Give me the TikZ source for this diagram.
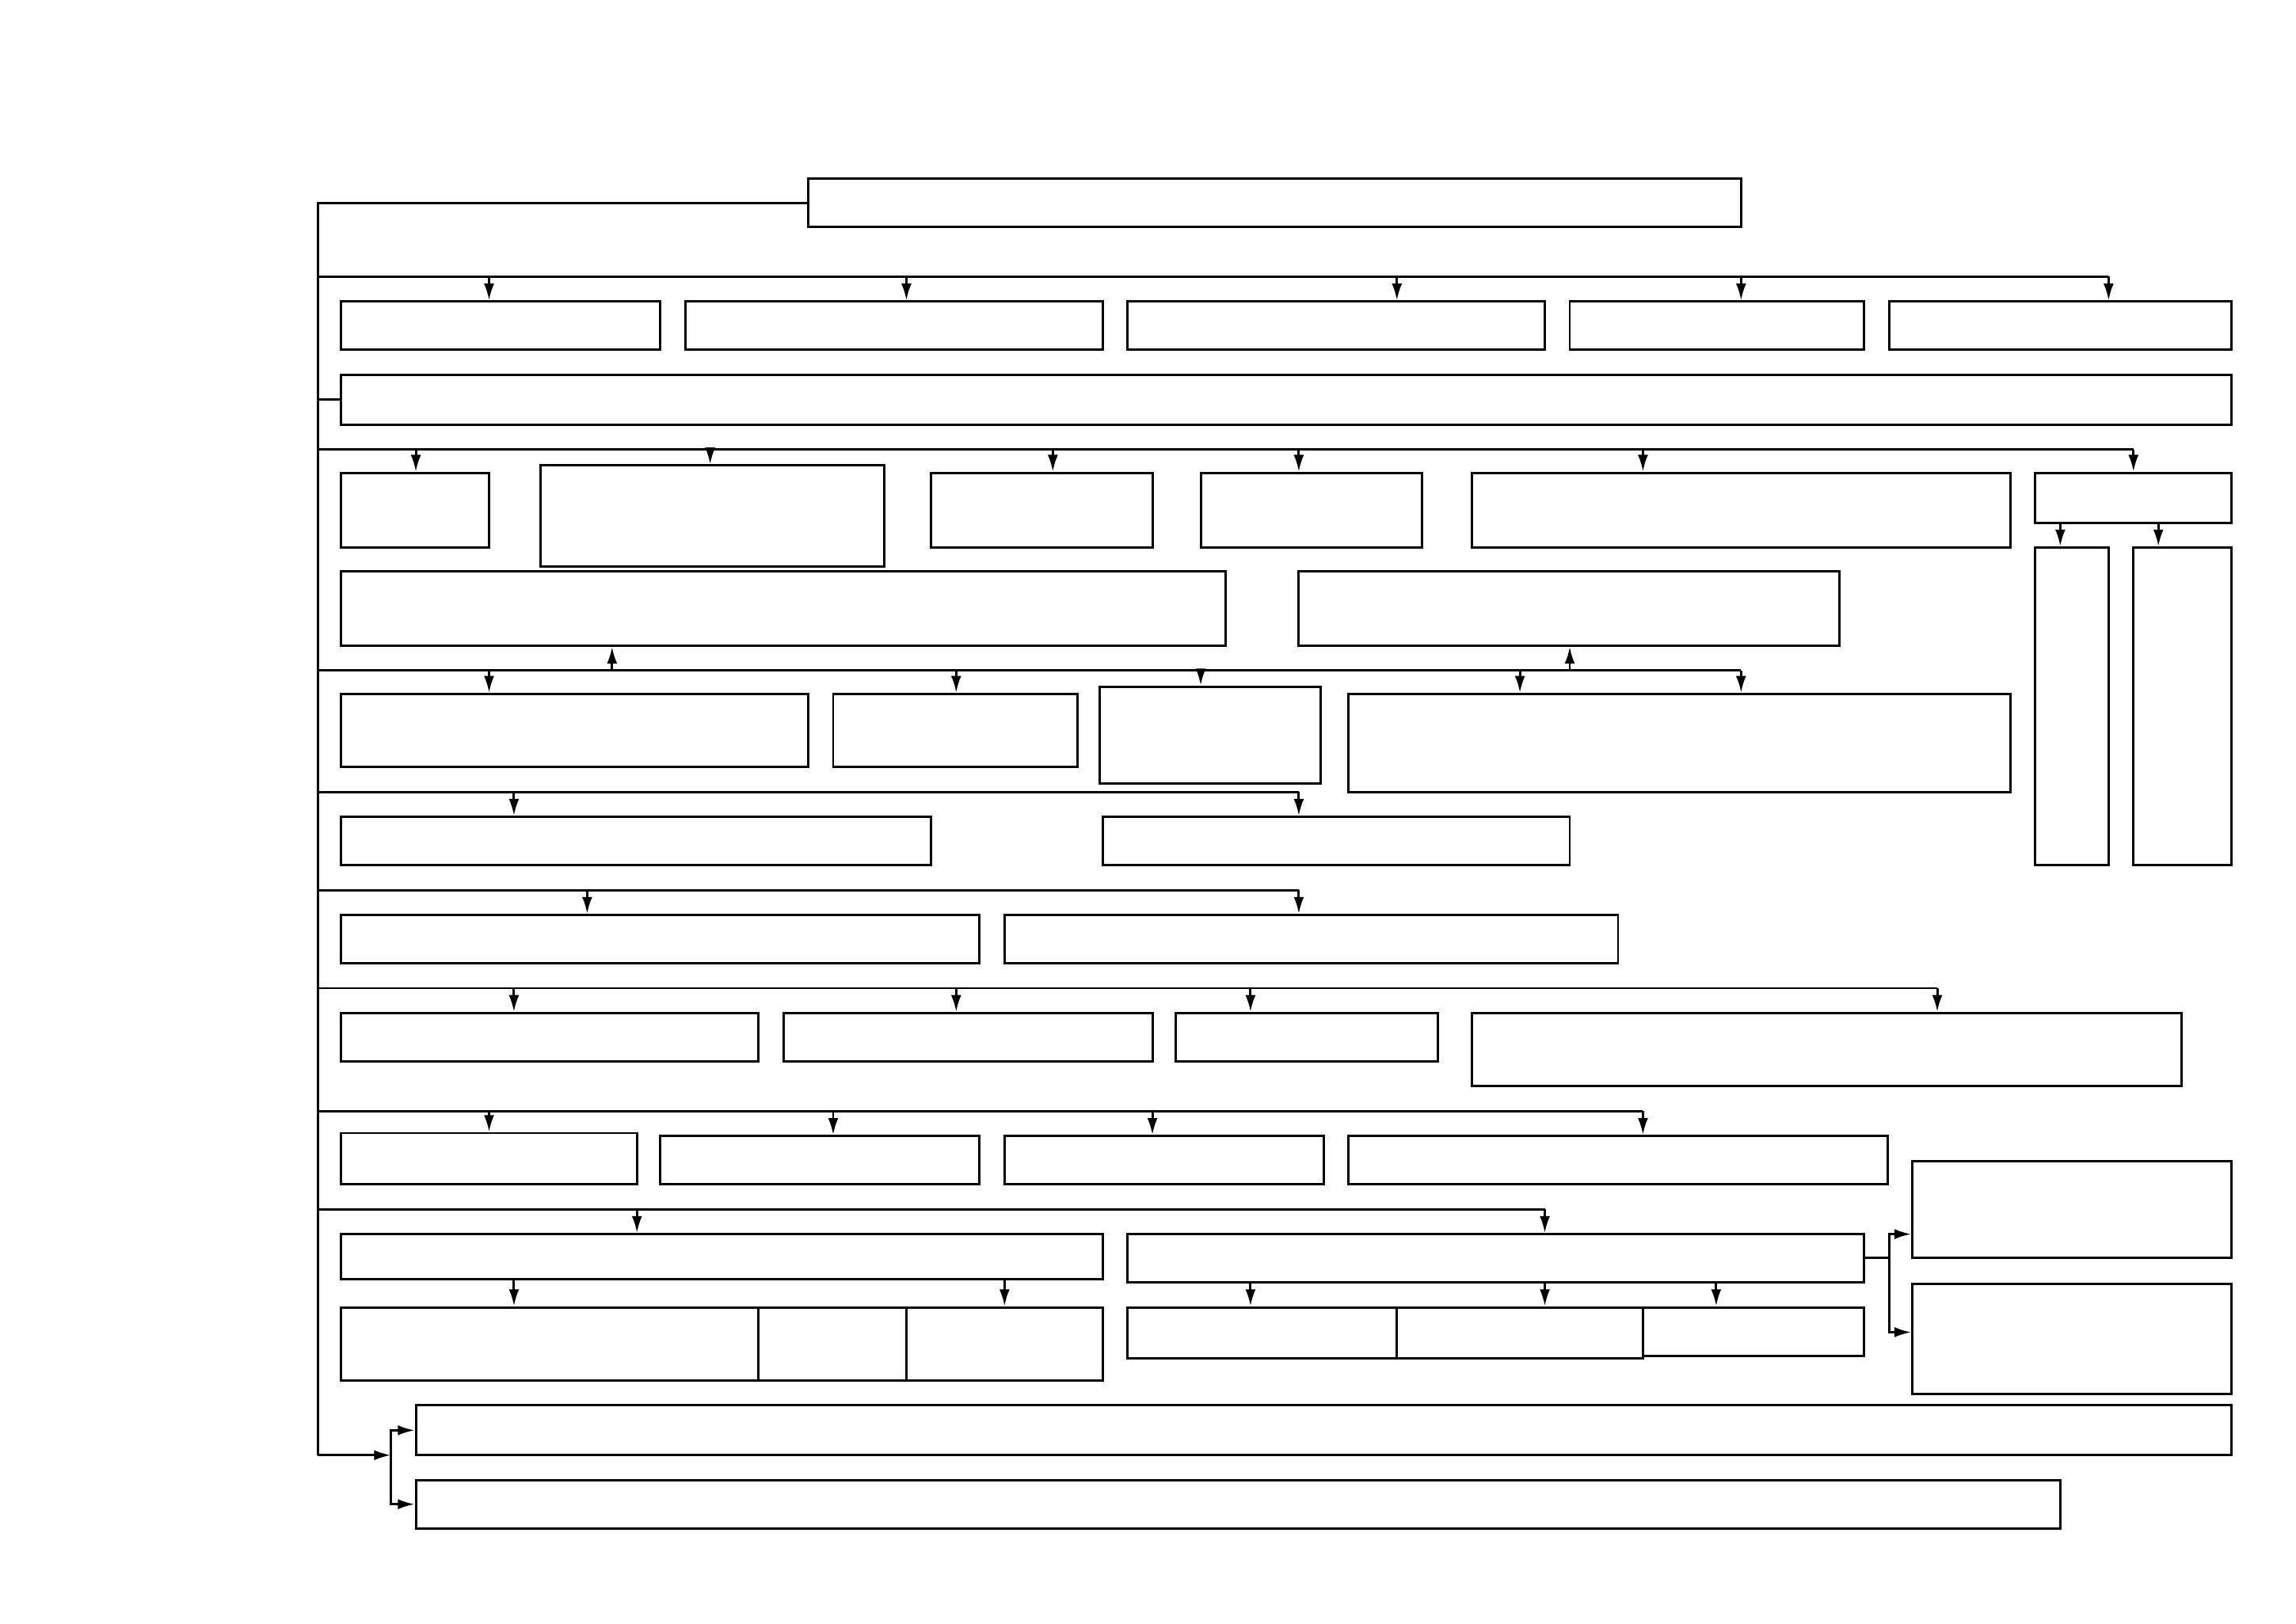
\documentclass[tikz,border=0pt]{standalone}
\usepackage{tikz}
\usetikzlibrary{arrows.meta}

\tikzset{
  box/.style={draw, line width=0.9pt, inner sep=0pt, fill=white},
  arr/.style={line width=0.9pt, -{Latex[length=2.3mm,width=1.4mm]}},
  wire/.style={line width=0.9pt}
}
% box from corner (#2,#3) to corner (#4,#5)
\newcommand{\blk}[5]{\node[box, minimum width={(#4-#2)*0.02cm}, minimum height={(#5-#3)*0.02cm}] (#1) at ({(#2+#4)/2},{(#3+#5)/2}) {};}

\begin{document}
\begin{tikzpicture}[x=0.02cm, y=-0.02cm]
    \useasboundingbox (0,0) rectangle (1568,1109);
    \blk{T}{552}{122}{1189}{155}
    \blk{A1}{233}{206}{451}{239} \blk{A2}{468}{206}{753}{239} \blk{A3}{770}{206}{1055}{239}
    \blk{A4}{1072}{206}{1273}{239} \blk{A5}{1290}{206}{1524}{239}
    \blk{B}{233}{256}{1524}{290}
    \blk{C1}{233}{323}{334}{374} \blk{C2}{369}{318}{604}{387} \blk{C3}{636}{323}{787}{374}
    \blk{C4}{820}{323}{971}{374} \blk{C5}{1005}{323}{1373}{374} \blk{C6}{1390}{323}{1524}{357}
    \blk{C6a}{1390}{374}{1440}{591} \blk{C6b}{1457}{374}{1524}{591}
    \blk{D1}{233}{390}{837}{441} \blk{D2}{887}{390}{1256}{441}
    \blk{E1}{233}{474}{552}{524} \blk{E2}{569}{474}{736}{524} \blk{E3}{751}{469}{902}{535}
    \blk{E4}{921}{474}{1373}{541}
    \blk{F1}{233}{558}{636}{591} \blk{F2}{753}{558}{1072}{591}
    \blk{G1}{233}{625}{669}{658} \blk{G2}{686}{625}{1105}{658}
    \blk{H1}{233}{692}{518}{725} \blk{H2}{535}{692}{787}{725} \blk{H3}{803}{692}{982}{725}
    \blk{H4}{1005}{692}{1490}{742}
    \blk{I1}{233}{774}{435}{809} \blk{I2}{451}{776}{669}{809} \blk{I3}{686}{776}{904}{809}
    \blk{I4}{921}{776}{1289}{809}
    \blk{J1}{233}{843}{753}{874} \blk{J2}{770}{843}{1273}{876}
    \blk{K1}{233}{893}{518}{943} \blk{K2}{518}{893}{619}{943} \blk{K3}{619}{893}{753}{943}
    \blk{L1}{770}{893}{954}{928} \blk{L2}{954}{893}{1122}{928} \blk{L3}{1122}{893}{1273}{926}
    \blk{M1}{1306}{793}{1524}{859} \blk{M2}{1306}{877}{1524}{952}
    \blk{N1}{284}{960}{1524}{994} \blk{N2}{284}{1011}{1407}{1044}

    % spine on the left
    \coordinate (sp) at (217,994);
    \draw[wire] (T.west) -| (sp);
    \draw[wire] (B.west) -- (B.west -| sp);
    \foreach \y/\e in {189/1440,307/1457,458/1189,541/887,608/887,675/1323,759/1122,826/1055}
        \draw[wire] (sp |- 0,\y) -- (\e,\y);

    % drops from the buses
    \foreach \x/\y/\n in {334/189/A1,619/189/A2,954/189/A3,1189/189/A4,1440/189/A5,
        284/307/C1,485/307/C2,719/307/C3,887/307/C4,1122/307/C5,1457/307/C6,
        334/458/E1,653/458/E2,820/458/E3,1038/458/E4,1189/458/E4,
        351/541/F1,887/541/F2,401/608/G1,887/608/G2,
        351/675/H1,653/675/H2,854/675/H3,1323/675/H4,
        334/759/I1,569/759/I2,787/759/I3,1122/759/I4,
        435/826/J1,1055/826/J2}
        \draw[arr] (\x,\y) -- (\n.north -| \x,0);
    \draw[arr] (418,458) -- (D1.south -| 418,0);
    \draw[arr] (1072,458) -- (D2.south -| 1072,0);

    \draw[arr] (C6.south -| 1407,0) -- (C6a.north -| 1407,0);
    \draw[arr] (C6.south -| 1474,0) -- (C6b.north -| 1474,0);
    \draw[arr] (J1.south -| 351,0) -- (K1.north -| 351,0);
    \draw[arr] (J1.south -| 686,0) -- (K3.north -| 686,0);
    \foreach \x/\n in {854/L1,1055/L2,1172/L3}
        \draw[arr] (J2.south -| \x,0) -- (\n.north -| \x,0);

    \coordinate (jm) at (1290,859);
    \draw[wire] (J2.east |- jm) -- (jm);
    \draw[arr] (jm) |- (M1.west |- 0,843);
    \draw[arr] (jm) |- (M2.west |- 0,910);

    \coordinate (nb) at (267,994);
    \draw[arr] (sp) -- (nb);
    \draw[arr] (nb) |- (N1.west);
    \draw[arr] (nb) |- (N2.west);
\end{tikzpicture}
\end{document}
